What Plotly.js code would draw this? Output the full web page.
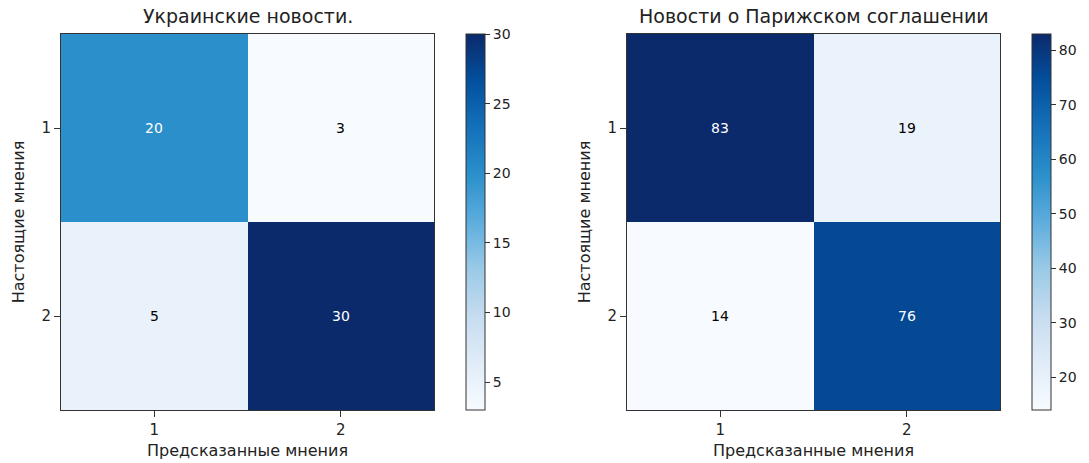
<!DOCTYPE html>
<html><head><meta charset="utf-8">
<script src="https://cdn.plot.ly/plotly-3.0.1.min.js"></script>
<style>html,body{margin:0;padding:0;background:#fff}#chart{width:1089px;height:463px}</style>
</head><body><div id="chart"></div>
<script>
const classes = [1, 2];
const tickLabels = ['1', '2'];
const titleLeft = 'Украинские новости.';
const titleRight = 'Новости о Парижском соглашении';
const xTitle = 'Предсказанные мнения';
const yTitle = 'Настоящие мнения';
const matrixLeft = [[20, 3], [5, 30]];
const matrixRight = [[83, 19], [14, 76]];

const blues = [
  [0.0, '#f7fbff'], [0.125, '#e0ecf8'], [0.25, '#c6dcf0'], [0.375, '#9acae6'],
  [0.5, '#5eaddd'], [0.625, '#2b90cb'], [0.75, '#1571ba'], [0.875, '#03509e'], [1.0, '#0b2a6b']
];
const font = 'DejaVu Sans, sans-serif';
const yBot = 1 - 410 / 463, yTop = 1 - 34 / 463;

function hm(z, xa, ya, cbx, dtick) {
  return {
    type: 'heatmap', z: z, x: classes, y: classes, xaxis: xa, yaxis: ya,
    colorscale: blues, hoverinfo: 'skip', xgap: 0, ygap: 0,
    colorbar: {
      x: cbx, xanchor: 'left', y: yBot, yanchor: 'bottom', len: yTop - yBot, lenmode: 'fraction',
      thickness: 19, outlinewidth: 1, outlinecolor: '#333', ticks: 'outside', ticklen: 5,
      tickcolor: '#333', dtick: dtick, tick0: 0, xpad: 0, ypad: 0,
      tickfont: {family: font, size: 14, color: '#222'}
    }
  };
}

const data = [hm(matrixLeft, 'x', 'y', 466 / 1089, 5), hm(matrixRight, 'x2', 'y2', 1032 / 1089, 10)];

const ann = [];
function addText(z, xr, yr) {
  let mx = -Infinity; z.forEach(r => r.forEach(v => { if (v > mx) mx = v; }));
  z.forEach((row, i) => row.forEach((v, j) => {
    ann.push({x: classes[j], y: classes[i], xref: xr, yref: yr, text: String(v), showarrow: false,
      font: {family: font, size: 14, color: v > mx / 2 ? '#ffffff' : '#000000'}});
  }));
}
addText(matrixLeft, 'x', 'y');
addText(matrixRight, 'x2', 'y2');
ann.push({x: (61 + 434) / 2 / 1089, y: 1 - 16 / 463, xref: 'paper', yref: 'paper', text: titleLeft,
  xanchor: 'center', yanchor: 'middle', showarrow: false, font: {family: font, size: 19, color: '#222'}});
ann.push({x: (627 + 1000) / 2 / 1089, y: 1 - 16 / 463, xref: 'paper', yref: 'paper', text: titleRight,
  xanchor: 'center', yanchor: 'middle', showarrow: false, font: {family: font, size: 19, color: '#222'}});

function xax(d, anchor) {
  return {domain: d, anchor: anchor, range: [0.5, 2.5], tickvals: classes, ticktext: tickLabels,
    showgrid: false, zeroline: false, showline: true, mirror: true, linecolor: '#333', linewidth: 1,
    ticks: 'outside', ticklen: 6, tickcolor: '#333',
    tickfont: {family: font, size: 15, color: '#222'},
    title: {text: xTitle, font: {family: font, size: 16, color: '#222'}, standoff: 6}};
}
function yax(anchor) {
  return {domain: [yBot, yTop], anchor: anchor, range: [2.5, 0.5], tickvals: classes, ticktext: tickLabels,
    showgrid: false, zeroline: false, showline: true, mirror: true, linecolor: '#333', linewidth: 1,
    ticks: 'outside', ticklen: 6, tickcolor: '#333',
    tickfont: {family: font, size: 15, color: '#222'},
    title: {text: yTitle, font: {family: font, size: 16, color: '#222'}, standoff: 12}};
}

const layout = {
  width: 1089, height: 463, margin: {l: 0, r: 0, t: 0, b: 0},
  paper_bgcolor: '#fff', plot_bgcolor: '#fff', showlegend: false,
  xaxis: xax([61 / 1089, 434 / 1089], 'y'),
  yaxis: yax('x'),
  xaxis2: xax([627 / 1089, 1000 / 1089], 'y2'),
  yaxis2: yax('x2'),
  annotations: ann
};
Plotly.newPlot('chart', data, layout, {staticPlot: true, displayModeBar: false});
</script></body></html>
